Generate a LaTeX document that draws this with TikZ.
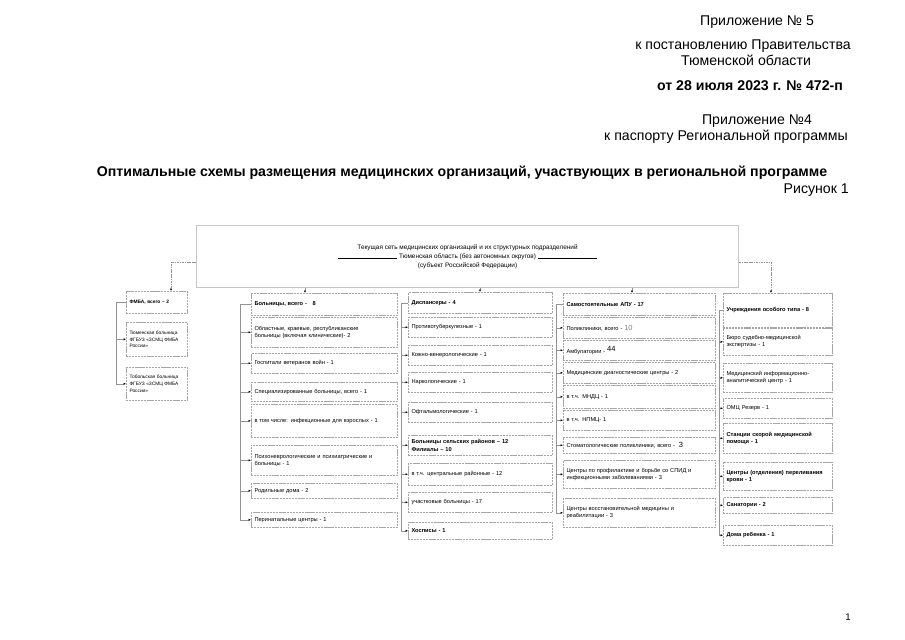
\documentclass[tikz,border=0pt]{standalone}
\usepackage{fontspec}
\setmainfont{Liberation Sans}
\usetikzlibrary{arrows.meta,calc}
\newcommand\bxx[7][]{%
  \pgfmathsetmacro\bw{(#5-#3)*0.93377}%
  \pgfmathsetmacro\bh{(#6-#4)*0.93377}%
  \pgfmathsetmacro\tw{\bw-6}%
  \node[bx, #1, minimum width=\bw pt, minimum height=\bh pt, text width=\tw pt] (#2) at (#3,#4) {#7};}
\begin{document}
\begin{tikzpicture}[x=0.32818mm,y=-0.32818mm,
  bx/.style={draw=gray!70, line width=0.55pt, dash pattern=on 2pt off 0.7pt,
    inner xsep=3pt, inner ysep=0pt, anchor=north west, align=left,
    font=\fontsize{5.3}{6.8}\selectfont},
  smallbx/.style={font=\fontsize{4.5}{6.2}\selectfont},
  topbox/.style={draw=gray!45, line width=1pt, inner sep=0pt, anchor=north west,
    align=center, font=\fontsize{6}{8.4}\selectfont},
  ln/.style={draw=gray!85, line width=0.5pt},
  dln/.style={ln, dash pattern=on 1.5pt off 0.8pt},
  ar/.style={ln, -{Latex[length=2.2pt,width=2pt,black]}},
  dar/.style={dln, -{Latex[length=2.2pt,width=2pt,black]}},
  hd/.style={font=\fontsize{13.2}{15}\selectfont, inner sep=0pt}
  ]
\useasboundingbox (0,0) rectangle (905,640);

% ---------- header texts ----------
\node[hd] (h1) at (757,22) {Приложение № 5};
\node[hd] (h2) at (743,46) {к постановлению Правительства};
\node[hd] (h3) at (746,60) {Тюменской области};
\node[hd, font=\fontsize{13.2}{15}\selectfont\bfseries] (h4) at (750,86) {от 28 июля 2023 г. № 472-п};
\node[hd] (h5) at (757,121) {Приложение №4};
\node[hd] (h6) at (726,137) {к паспорту Региональной программы};
\node[hd, font=\fontsize{13.2}{15}\selectfont\bfseries] (h7) at (462,173) {Оптимальные схемы размещения медицинских организаций, участвующих в региональной программе};
\node[hd, anchor=east] (h8) at (849,190) {Рисунок 1};
\node[hd, font=\fontsize{9}{11}\selectfont] (pg) at (848,617) {1};

% ---------- top box ----------
\node[topbox, minimum width={542*0.93377pt}, minimum height={62*0.93377pt}] (top) at (196,225)
 {Текущая сеть медицинских организаций и их структурных подразделений\\
  \rule[-0.3pt]{55pt}{0.3pt}~Тюменская область (без автономных округов)~\rule[-0.3pt]{55pt}{0.3pt}\\
  (субъект Российской Федерации)};

% ---------- column 1 ----------
\bxx[smallbx]{c1h}{126}{291}{187}{313}{\textbf{ФМБА, всего – 2}}
\bxx[smallbx]{c1a}{126}{322}{187}{356}{Тюменская больница\\ФГБУЗ «ЗСМЦ ФМБА\\России»}
\bxx[smallbx]{c1b}{126}{367}{187}{400}{Тобольская больница\\ФГБУЗ «ЗСМЦ ФМБА\\России»}

% ---------- column 2 ----------
\bxx{c2h}{251}{293}{397}{315}{\textbf{Больницы, всего -} \ \ \textbf{8}}
\bxx{c2a}{251}{317}{397}{347}{Областные, краевые, республиканские\\больницы (включая клинические)- 2}
\bxx{c2b}{251}{353}{397}{373}{Госпитали ветеранов войн - 1}
\bxx{c2c}{251}{382}{397}{401}{Специализированные больницы, всего - 1}
\bxx{c2d}{251}{404}{397}{437}{в том числе: инфекционные для взрослых - 1}
\bxx{c2e}{251}{445}{397}{475}{Психоневрологические и психиатрические и\\больницы - 1}
\bxx{c2f}{251}{483}{397}{498}{Родильные дома - 2}
\bxx{c2g}{251}{512}{397}{527}{Перинатальные центры - 1}

% ---------- column 3 ----------
\bxx{c3h}{408}{292}{552}{313}{\textbf{Диспансеры - 4}}
\bxx{c3a}{408}{317}{552}{337}{Противотуберкулезные - 1}
\bxx{c3b}{408}{345}{552}{365}{Кожно-венерологические - 1}
\bxx{c3c}{408}{372}{552}{392}{Наркологические - 1}
\bxx{c3d}{408}{402}{552}{422}{Офтальмологические - 1}
\bxx{c3e}{408}{435}{552}{455}{\textbf{Больницы сельских районов – 12}\\\textbf{Филиалы – 10}}
\bxx{c3f}{408}{463}{552}{485}{в т.ч. центральные районные - 12}
\bxx{c3g}{408}{492}{552}{512}{участковые больницы - 17}
\bxx{c3i}{408}{522}{552}{539}{\textbf{Хосписы - 1}}

% ---------- column 4 ----------
\bxx{c4h}{563}{293}{715}{315}{\textbf{Самостоятельные АПУ - 17}}
\bxx{c4a}{563}{317}{715}{338}{Поликлиники, всего - {\fontsize{7}{7}\selectfont\color{gray}10}}
\bxx{c4b}{563}{340}{715}{360}{Амбулатории - \raisebox{1.5pt}{\fontsize{7}{7}\selectfont 44}}
\bxx{c4c}{563}{362}{715}{383}{Медицинские диагностические центры - 2}
\bxx{c4d}{563}{385}{715}{408}{в т.ч. МНДЦ - 1}
\bxx{c4e}{563}{410}{715}{430}{в т.ч. НПМЦ- 1}
\bxx{c4f}{563}{437}{715}{453}{Стоматологические поликлиники, всего - \ {\fontsize{7}{7}\selectfont 3}}
\bxx{c4g}{563}{460}{715}{488}{Центры по профилактике и борьбе со СПИД и\\инфекционными заболеваниями - 3}
\bxx{c4i}{563}{498}{715}{527}{Центры восстановительной медицины и\\реабилитации - 3}

% ---------- column 5 ----------
\bxx{c5h}{723}{293}{832}{327}{\textbf{Учреждения особого типа - 8}}
\bxx{c5a}{723}{328}{832}{355}{Бюро судебно-медицинской\\экспертизы - 1}
\bxx{c5b}{723}{363}{832}{392}{Медицинский информационно-\\аналитический центр - 1}
\bxx{c5c}{723}{398}{832}{418}{ОМЦ Резерв - 1}
\bxx{c5d}{723}{423}{832}{453}{\textbf{Станции скорой медицинской}\\\textbf{помощи - 1}}
\bxx{c5e}{723}{462}{832}{490}{\textbf{Центры (отделения) переливания}\\\textbf{крови - 1}}
\bxx{c5f}{723}{497}{832}{513}{\textbf{Санатории - 2}}
\bxx{c5g}{723}{525}{832}{545}{\textbf{Дома ребенка - 1}}

% ---------- connectors from the top box ----------
\coordinate (k1) at (171,262);
\coordinate (k5) at (771,262);
\coordinate (k2) at (305,0);
\coordinate (k3) at (480,0);
\coordinate (k4) at (632,0);
\draw[dar] (top.west |- k1) -- (k1) -- (k1 |- c1h.north);
\draw[dar] (top.east |- k5) -- (k5) -- (k5 |- c5h.north);
\draw[ar] (top.south -| k2) -- (c2h.north -| k2);
\draw[ar] (top.south -| k3) -- (c3h.north -| k3);
\draw[ar] (top.south -| k4) -- (c4h.north -| k4);

% ---------- brackets ----------
\coordinate (b1) at (116,0);
\coordinate (b2) at (240,0);
\coordinate (b3) at (401,0);
\coordinate (b4) at (556,0);
\coordinate (b5) at (719,0);

\draw[ln] (c1h.west) -- (c1h.west -| b1) -- (c1b.west -| b1);
\foreach \n in {c1a,c1b} \draw[ar] (\n.west -| b1) -- (\n.west);

\draw[ln] (c2h.west) -- (c2h.west -| b2) -- (c2g.west -| b2);
\foreach \n in {c2a,c2b,c2c,c2d,c2e,c2f,c2g} \draw[ar] (\n.west -| b2) -- (\n.west);

\draw[ln] (c3h.west) -- (c3h.west -| b3) -- (c3i.west -| b3);
\foreach \n in {c3a,c3b,c3c,c3d,c3e,c3f,c3g,c3i} \draw[ar] (\n.west -| b3) -- (\n.west);

\draw[ln] (c4h.west) -- (c4h.west -| b4) -- (c4i.west -| b4);
\foreach \n in {c4a,c4b,c4c,c4d,c4e,c4f,c4g,c4i} \draw[ar] (\n.west -| b4) -- (\n.west);

\draw[ln] (c5h.west) -- (c5h.west -| b5) -- (c5g.west -| b5);
\foreach \n in {c5a,c5b,c5c,c5d,c5e,c5f,c5g} \draw[ar] (\n.west -| b5) -- (\n.west);
\end{tikzpicture}
\end{document}
